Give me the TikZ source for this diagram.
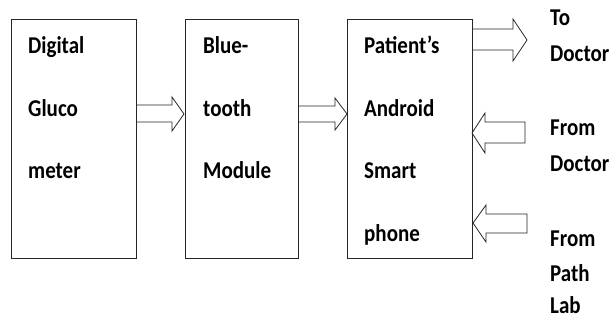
\documentclass[tikz,border=0pt]{standalone}
\usepackage{fontspec}
\setmainfont{Carlito}
\newcommand{\tall}[1]{\scalebox{1}[1.15]{#1}}
\begin{document}
\begin{tikzpicture}[x=1pt,y=-1pt,
  box/.style={draw=black!85,line width=0.9pt,minimum width=#1,minimum height=239pt,inner sep=0pt},
  blockarrow/.style={draw=black!85,line width=0.8pt,line join=miter},
  lbl/.style={anchor=base west,inner sep=0pt,font=\bfseries\fontsize{21}{21}\selectfont}]
\useasboundingbox (0,0) rectangle (612,320);
\node[box=125pt] (b1) at (73.5,138.5) {};
\node[box=113pt] (b2) at (241.5,138.5) {};
\node[box=125pt] (b3) at (409.5,138.5) {};
% texts
\node[lbl] (t11) at (28,54) {\tall{Digital}};
\node[lbl] (t12) at (28,117) {\tall{Gluco}};
\node[lbl] (t13) at (28,179) {\tall{meter}};
\node[lbl] (t21) at (203,54) {\tall{Blue-}};
\node[lbl] (t22) at (203,117) {\tall{tooth}};
\node[lbl] (t23) at (203,179) {\tall{Module}};
\node[lbl] (t31) at (364,54) {\tall{Patient’s}};
\node[lbl] (t32) at (364,117) {\tall{Android}};
\node[lbl] (t33) at (364,179) {\tall{Smart}};
\node[lbl] (t34) at (364,241) {\tall{phone}};
\node[lbl] (r1) at (550,26) {\tall{To}};
\node[lbl] (r2) at (550,62) {\tall{Doctor}};
\node[lbl] (r3) at (550,136) {\tall{From}};
\node[lbl] (r4) at (550,172) {\tall{Doctor}};
\node[lbl] (r5) at (550,246) {\tall{From}};
\node[lbl] (r6) at (550,281) {\tall{Path}};
\node[lbl] (r7) at (550,313) {\tall{Lab}};
% block arrows
\draw[blockarrow] (136,105) -- (172,105) -- (172,97) -- (184,114) -- (172,131) -- (172,122) -- (136,122);
\draw[blockarrow] (298,106) -- (335,106) -- (335,98) -- (347,114) -- (335,130) -- (335,122) -- (298,122);
\draw[blockarrow] (472,29) -- (513,29) -- (513,19) -- (527,40) -- (513,61) -- (513,50) -- (472,50);
\draw[blockarrow] (485,122) -- (525,122) -- (525,143) -- (485,143) -- (485,153) -- (472,133) -- (485,113) -- cycle;
\draw[blockarrow] (486,214) -- (527,214) -- (527,233) -- (486,233) -- (486,242) -- (473,223) -- (486,205) -- cycle;
\end{tikzpicture}
\end{document}
